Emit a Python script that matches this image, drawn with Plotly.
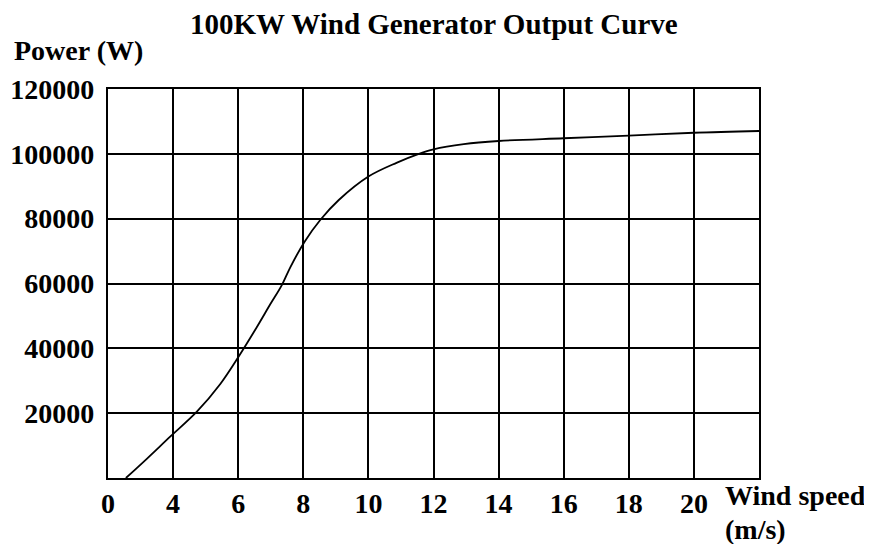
import plotly.graph_objects as go

# Data
wind_speed = [2.55, 3.2, 3.91, 4.73, 5.45, 6.01, 6.57, 6.98, 7.34, 7.6, 8.04, 8.52,
              9.09, 10.0, 10.88, 11.55, 12.0, 12.93, 14.0, 16.0, 18.0, 20.0, 22.0]
power_w = [0, 6000, 12750, 20460, 29000, 37400, 46500, 53500, 59500, 65000, 72900,
           79600, 85760, 93000, 97300, 100000, 101400, 103000, 103960, 104800, 105600,
           106500, 107050]

x_tick_vals = [2, 4, 6, 8, 10, 12, 14, 16, 18, 20]
x_tick_text = ["0", "4", "6", "8", "10", "12", "14", "16", "18", "20"]
y_tick_vals = [20000, 40000, 60000, 80000, 100000, 120000]
y_tick_text = ["20000", "40000", "60000", "80000", "100000", "120000"]

FONT = "Liberation Serif"

fig = go.Figure()
fig.add_trace(go.Scatter(
    x=wind_speed, y=power_w, mode="lines",
    line=dict(color="black", width=1.8, shape="spline", smoothing=1.0),
    hoverinfo="skip", showlegend=False,
))

fig.update_layout(
    width=864, height=536,
    margin=dict(l=100, r=113, t=81, b=66),
    paper_bgcolor="white", plot_bgcolor="white",
    font=dict(family=FONT, color="black", size=28, weight="bold"),
    showlegend=False,
    xaxis=dict(
        range=[2, 22], tickvals=x_tick_vals, ticktext=x_tick_text,
        showgrid=True, gridcolor="black", gridwidth=1.6,
        showline=True, linecolor="black", linewidth=2.2, mirror=True,
        zeroline=False, ticks="", ticklabelstandoff=-1, automargin=False,
        tickfont=dict(family=FONT, size=28, color="black", weight="bold"),
        fixedrange=True,
    ),
    yaxis=dict(
        range=[0, 120000], tickvals=y_tick_vals, ticktext=y_tick_text,
        showgrid=True, gridcolor="black", gridwidth=1.6,
        showline=True, linecolor="black", linewidth=2.2, mirror=True,
        zeroline=False, ticks="", ticklabelstandoff=6, automargin=False,
        tickfont=dict(family=FONT, size=28, color="black", weight="bold"),
        fixedrange=True,
    ),
    annotations=[
        dict(text="100KW Wind Generator Output Curve", xref="paper", yref="paper",
             x=0.5, y=1, yshift=65, xanchor="center", yanchor="middle",
             showarrow=False, font=dict(family=FONT, size=29, color="black", weight="bold")),
        dict(text="Power (W)", xref="paper", yref="paper",
             x=0, xshift=-96, y=1, yshift=39, xanchor="left", yanchor="middle",
             showarrow=False, font=dict(family=FONT, size=28, color="black", weight="bold")),
        dict(text="Wind speed", xref="paper", yref="paper",
             x=1, xshift=-36, y=0, yshift=-17, xanchor="left", yanchor="middle",
             showarrow=False, font=dict(family=FONT, size=28, color="black", weight="bold")),
        dict(text="(m/s)", xref="paper", yref="paper",
             x=1, xshift=-36, y=0, yshift=-51, xanchor="left", yanchor="middle",
             showarrow=False, font=dict(family=FONT, size=28, color="black", weight="bold")),
    ],
)

fig.write_html("out.html")
